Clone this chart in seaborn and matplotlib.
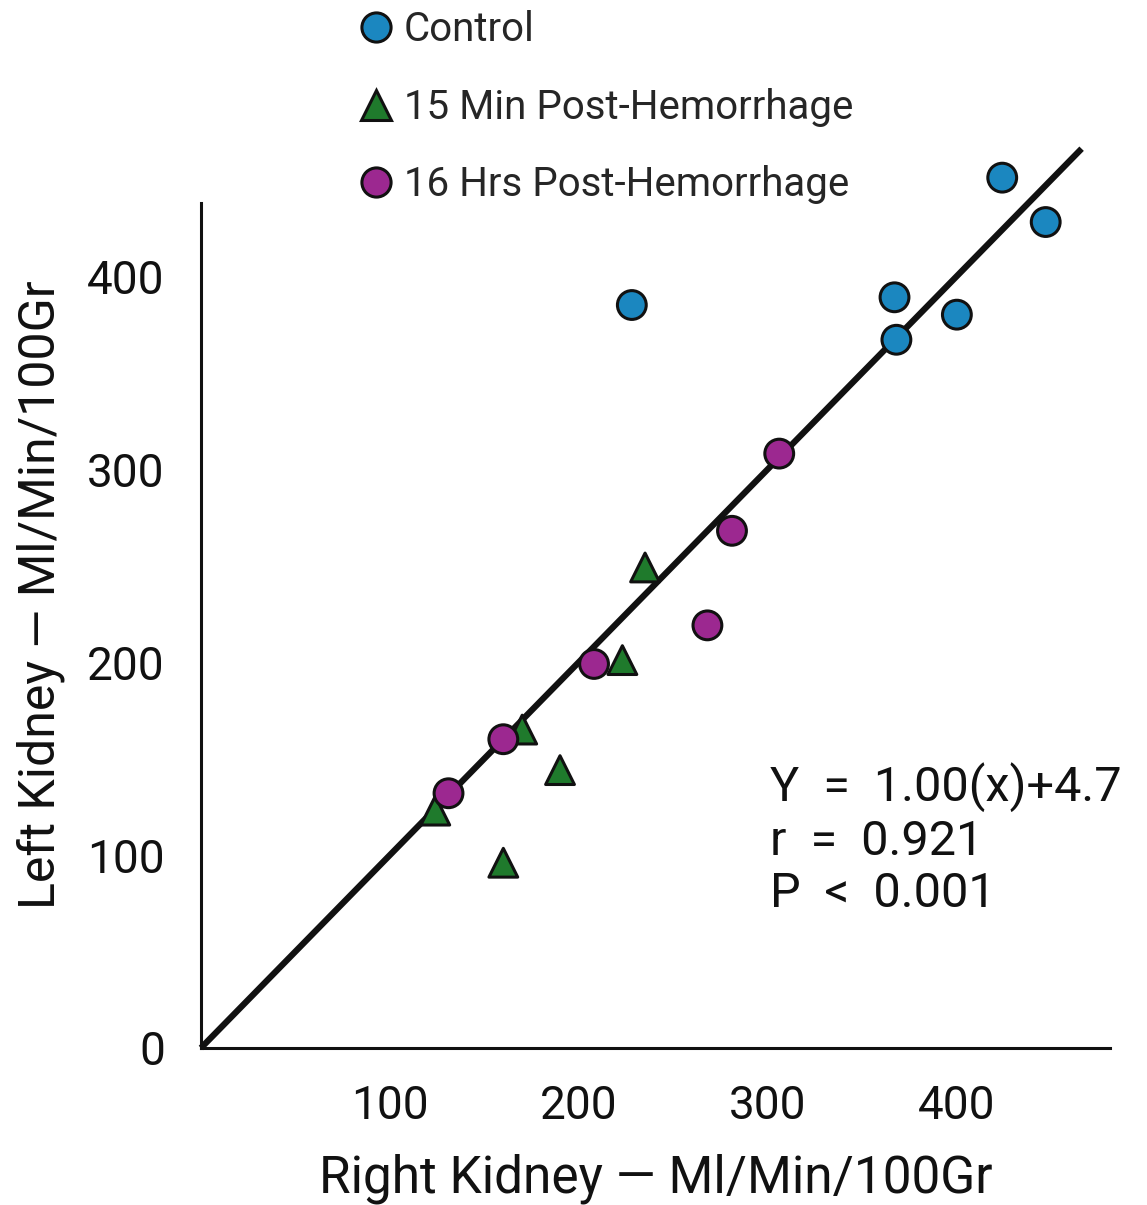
import pandas as pd
import matplotlib
matplotlib.use("Agg")
from matplotlib import pyplot as plt
import seaborn as sns

# values (ml/min/100g)
control_x = [424, 447, 228, 367, 368, 400]
control_y = [451, 428, 385, 389, 367, 380]

min15_x = [235, 223, 170, 190, 124, 160]
min15_y = [249, 201, 165, 144, 123, 96]

hrs16_x = [306, 281, 268, 208, 160, 131]
hrs16_y = [308, 268, 219, 199, 160, 132]

groups = ["Control", "15 Min Post-Hemorrhage", "16 Hrs Post-Hemorrhage"]
colors = ["#1b87c0", "#1f7a2c", "#9c2890"]
markers = ["o", "^", "o"]

# regression line as drawn (endpoints)
line_x = [0, 466]
line_y = [0, 466]

equation = "Y  =  1.00(x)+4.7\nr  =  0.921\nP  <  0.001"

# build table for seaborn
data = pd.DataFrame({
    "x": control_x + min15_x + hrs16_x,
    "y": control_y + min15_y + hrs16_y,
    "group": [groups[0]] * len(control_x) + [groups[1]] * len(min15_x)
    + [groups[2]] * len(hrs16_x),
})

sns.set_style("white")
plt.rcParams['font.family'] = ['Roboto', 'DejaVu Sans']

fig = plt.figure(figsize=(11.47, 12.05), dpi=100)
ax = fig.add_axes([0.1752, 0.1303, 0.7925, 0.7527])

# regression line
ax.plot(line_x, line_y, color="#111111", lw=4.5, zorder=2, clip_on=False,
        solid_capstyle="butt")

sns.scatterplot(data=data, x="x", y="y", hue="group", style="group",
                palette=dict(zip(groups, colors)),
                markers=dict(zip(groups, markers)),
                s=430, edgecolor="#111111", linewidth=2.2, zorder=3,
                clip_on=False, ax=ax)

ax.set_xlim(0, 481)
ax.set_ylim(0, 470)
ax.spines['left'].set_bounds(0, 438)
sns.despine(ax=ax)
for side in ['left', 'bottom']:
    ax.spines[side].set_linewidth(2.2)
    ax.spines[side].set_color("#111111")

ax.set_xticks([100, 200, 300, 400])
ax.set_yticks([0, 100, 200, 300, 400])
ax.tick_params(axis='both', direction='out', length=18, width=1.8,
               color="#111111", labelsize=33, pad=8, labelcolor="#111111")

ax.set_xlabel("Right Kidney — Ml/Min/100Gr", fontsize=37, labelpad=18,
              color="#111111")
ax.set_ylabel("Left Kidney — Ml/Min/100Gr", fontsize=36, labelpad=16,
              color="#111111")

ax.text(301, 148, equation, fontsize=35, va='top', ha='left',
        linespacing=1.18, color="#111111")

# legend above the plot, in figure coordinates
handles, labels = ax.get_legend_handles_labels()
ax.get_legend().remove()
for h in handles:
    h.set_markersize(21)
    h.set_markeredgewidth(2.2)
le = fig.legend(handles, labels, loc='upper left',
                bbox_to_anchor=(0.287, 1.008), frameon=False, fontsize=29,
                labelspacing=0.95, handlelength=1.3, handletextpad=0.05,
                borderpad=0)

plt.savefig('out.png', dpi=100)
